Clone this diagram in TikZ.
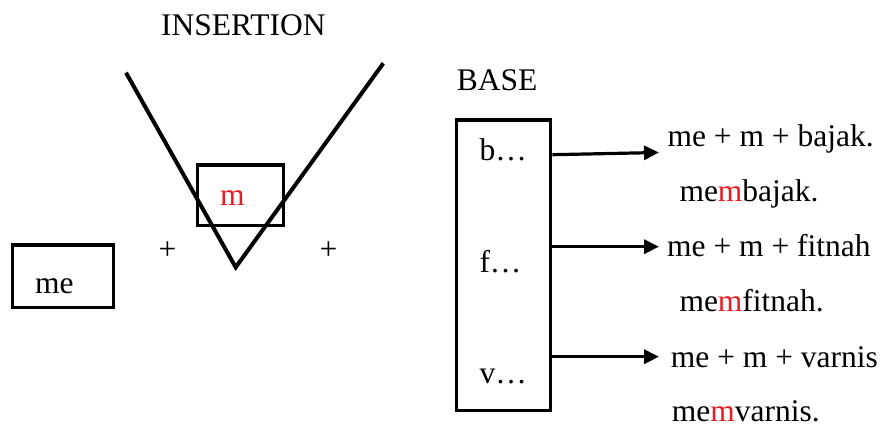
\documentclass[tikz,border=0pt]{standalone}
\usepackage{fontspec}
\setmainfont{Liberation Serif}
\usetikzlibrary{arrows.meta}
\definecolor{mred}{RGB}{230,30,36}
\begin{document}
\begin{tikzpicture}[x=1pt,y=-1pt,
  txt/.style={inner sep=0pt,anchor=base west,font=\fontsize{31.5}{36}\selectfont},
  boxline/.style={draw=black,line width=3.5pt,inner sep=0pt},
  vline/.style={line width=4pt,line join=miter},
  arr/.style={line width=3.2pt,-{Triangle[length=15pt,width=14pt]}}]
\useasboundingbox (0,0) rectangle (884,425);
% titles
\node[txt] (ins) at (161,36) {INSERTION};
\node[txt] (bt) at (456.7,91) {BASE};
% V shape
\coordinate (vl) at (126,72.7);
\coordinate (vb) at (235.7,267.3);
\coordinate (vr) at (383.3,63.3);
\draw[vline] (vl) -- (vb) -- (vr);
% m box
\node[boxline,minimum width=85.6pt,minimum height=60.7pt] (mbox) at (240.5,195.3) {};
\node[txt,text=mred] (mt) at (220,205.7) {m};
% plus signs
\node[txt] (p1) at (158.5,259) {+};
\node[txt] (p2) at (319.5,259) {+};
% me box
\node[boxline,minimum width=100.6pt,minimum height=62.3pt] (mebox) at (63,276.2) {};
\node[txt] (met) at (35,293.3) {me};
% base box
\node[boxline,minimum width=94pt,minimum height=290.7pt] (base) at (503.7,265.3) {};
\node[txt] (b) at (479.3,160.7) {b…};
\node[txt] (f) at (479.3,272) {f…};
\node[txt] (v) at (479.3,383) {v…};
% right texts
\node[txt] (t1) at (667.3,146.7) {me + m + bajak.};
\node[txt] (r1) at (679.3,201.7) {me\textcolor{mred}{m}bajak.};
\node[txt] (t2) at (667,256.7) {me + m + fitnah};
\node[txt] (r2) at (679.3,311.7) {me\textcolor{mred}{m}fitnah.};
\node[txt] (t3) at (670.7,367.3) {me + m + varnis};
\node[txt] (r3) at (671.7,421.5) {me\textcolor{mred}{m}varnis.};
% arrows
\coordinate (e1) at (659,152.5);
\coordinate (e2) at (659,246.7);
\coordinate (e3) at (659,356.7);
\draw[arr] (base.east |- 0,154.7) -- (e1);
\draw[arr] (base.east |- e2) -- (e2);
\draw[arr] (base.east |- e3) -- (e3);
\end{tikzpicture}
\end{document}
